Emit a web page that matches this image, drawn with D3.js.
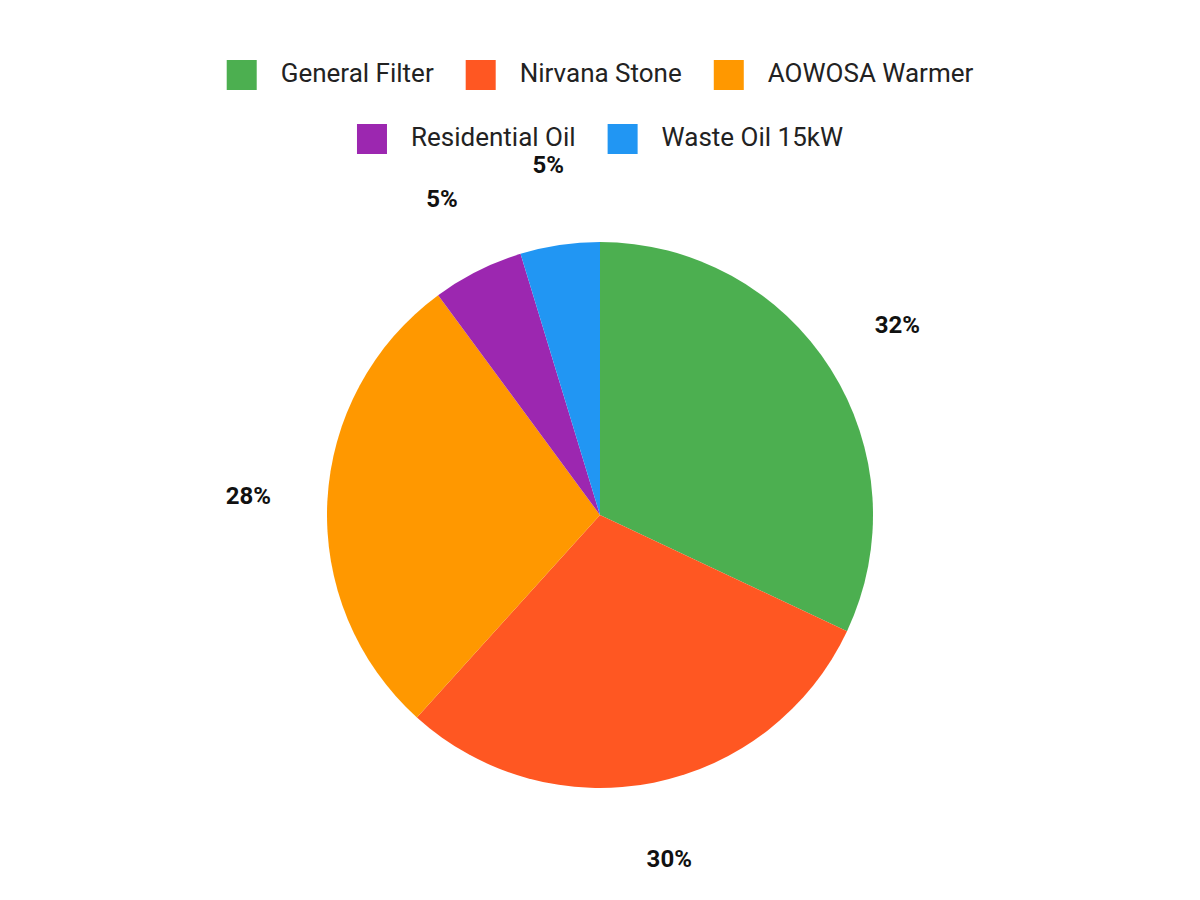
<!DOCTYPE html>
<html><head><meta charset="utf-8">
<script src="https://cdn.jsdelivr.net/npm/d3@7"></script>
<style>body{margin:0;background:#fff;font-family:Roboto,sans-serif}</style>
</head><body>
<script>
const categories = ["General Filter", "Nirvana Stone", "AOWOSA Warmer", "Residential Oil", "Waste Oil 15kW"];
const values = [32, 29.7, 28.2, 5.4, 4.7];
const labels = ["32%", "30%", "28%", "5%", "5%"];
const colors = ["#4caf50", "#ff5722", "#ff9800", "#9c27b0", "#2196f3"];

const svg = d3.select("body").append("svg").attr("width", 1200).attr("height", 900);
const cx = 600, cy = 515, r = 273;

const pie = d3.pie().sort(null).value(d => d)(values);
const arc = d3.arc().innerRadius(0).outerRadius(r);
const labelArc = d3.arc().innerRadius(r * 1.29).outerRadius(r * 1.29);

const g = svg.append("g").attr("transform", `translate(${cx},${cy})`);
g.selectAll("path").data(pie).join("path")
  .attr("d", arc).attr("fill", (d, i) => colors[i]);

g.selectAll("text").data(pie).join("text")
  .attr("transform", d => `translate(${labelArc.centroid(d)})`)
  .attr("text-anchor", "middle").attr("dominant-baseline", "middle")
  .style("font-size", "24px").style("font-weight", "bold").style("fill", "#111")
  .text((d, i) => labels[i]);

// legend, two centred rows
const rows = [[0, 1, 2], [3, 4]];
const rowY = [75, 139];
rows.forEach((row, ri) => {
  const lg = svg.append("g");
  let x = 0;
  row.forEach(i => {
    const item = lg.append("g").attr("transform", `translate(${x},0)`);
    item.append("rect").attr("x", 0).attr("y", -15).attr("width", 30).attr("height", 30).attr("fill", colors[i]);
    const t = item.append("text").attr("x", 54).attr("dominant-baseline", "middle")
      .style("font-size", "26px").style("fill", "#222").text(categories[i]);
    x += 54 + t.node().getComputedTextLength() + 32;
  });
  const w = x - 32;
  lg.attr("transform", `translate(${600 - w / 2},${rowY[ri]})`);
});
</script>
</body></html>
